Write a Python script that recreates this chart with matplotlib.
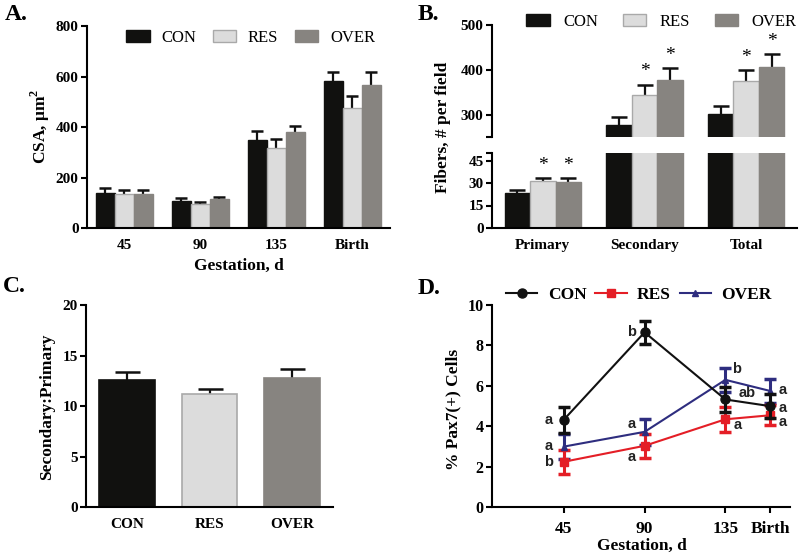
import matplotlib
matplotlib.use('Agg')
import matplotlib.pyplot as plt
import numpy as np
from matplotlib.patches import Patch
from matplotlib.lines import Line2D

plt.rcParams['font.family'] = ['Liberation Serif', 'DejaVu Serif']
plt.rcParams['font.weight'] = 'bold'
plt.rcParams['axes.linewidth'] = 1.5
plt.rcParams['xtick.major.width'] = 1.5
plt.rcParams['ytick.major.width'] = 1.5
plt.rcParams['mathtext.fontset'] = 'custom'
plt.rcParams['mathtext.bf'] = 'Liberation Serif:bold'
plt.rcParams['mathtext.rm'] = 'Liberation Serif:bold'

# ---------------- data ----------------
groups = ['CON', 'RES', 'OVER']

# Panel A: CSA
a_cats = ['45', '90', '135', 'Birth']
a_con = [140, 108, 350, 583]
a_con_err = [18, 11, 35, 37]
a_res = [135, 96, 319, 474]
a_res_err = [15, 8, 33, 50]
a_over = [135, 115, 379, 568]
a_over_err = [15, 10, 27, 52]

# Panel B: fibers per field
b_cats = ['Primary', 'Secondary', 'Total']
b_con = [23.5, 277, 301.5]
b_con_err = [1.8, 18, 18.5]
b_res = [31.3, 344, 375.5]
b_res_err = [1.8, 23, 23]
b_over = [30.9, 378, 407]
b_over_err = [2.2, 26, 29]
b_sig_res = [True, True, True]
b_sig_over = [True, True, True]

# Panel C: secondary:primary ratio
c_vals = [12.58, 11.17, 12.75]
c_err = [0.76, 0.52, 0.92]

# Panel D: % Pax7(+) cells
d_x = [45, 90, 135, 160]
d_xlabels = ['45', '90', '135', 'Birth']
d_con = [4.33, 8.65, 5.33, 5.0]
d_con_err = [0.65, 0.58, 0.62, 0.6]
d_res = [2.25, 3.04, 4.35, 4.55]
d_res_err = [0.6, 0.58, 0.62, 0.5]
d_over = [3.0, 3.73, 6.3, 5.75]
d_over_err = [0.62, 0.65, 0.6, 0.58]
d_con_letters = ['a', 'b', 'ab', 'a']
d_res_letters = ['b', 'a', 'a', 'a']
d_over_letters = ['a', 'a', 'b', 'a']

# ---------------- styles ----------------
bar_colors = ['#11110f', '#dcdcdc', '#878480']
bar_edges = ['#11110f', '#a9a9a9', '#878480']
line_colors = ['#111111', '#e41e26', '#2e2d7f']
markers = ['o', 's', '^']
tick_fs = 11
lab_fs = 12.5

W, H = 800, 557
fig = plt.figure(figsize=(8, 5.57), dpi=100)


def rect(l, t, r, b):
    return [l / W, 1 - b / H, (r - l) / W, (b - t) / H]


def style_bar_axis(ax):
    for s in ['top', 'right']:
        ax.spines[s].set_visible(False)
    ax.tick_params(axis='y', direction='out', length=4, labelsize=tick_fs, pad=2)
    ax.tick_params(axis='x', length=0, labelsize=tick_fs, pad=8)
    for lab in ax.get_xticklabels() + ax.get_yticklabels():
        lab.set_fontweight('bold')


def grouped_bars(ax, x, series, errs, width, capsize):
    for i, (vals, err) in enumerate(zip(series, errs)):
        xi = x + (i - 1) * width
        ax.errorbar(xi, vals, yerr=err, fmt='none', ecolor='#111111',
                    elinewidth=1.6, capsize=capsize, capthick=1.8, zorder=1)
        ax.bar(xi, vals, width=width, color=bar_colors[i],
               edgecolor=bar_edges[i], linewidth=1.0, zorder=2,
               label=groups[i])


# ---------------- Panel A ----------------
axA = fig.add_axes(rect(87, 26, 390, 228.3))
xa = np.arange(len(a_cats))
grouped_bars(axA, xa, [a_con, a_res, a_over], [a_con_err, a_res_err, a_over_err], 0.25, 4)
axA.set_xlim(-0.49, 3.5)
axA.set_ylim(0, 800)
axA.set_yticks([0, 200, 400, 600, 800])
axA.set_xticks(xa)
axA.set_xticklabels(a_cats)
style_bar_axis(axA)
axA.legend(loc='center', bbox_to_anchor=(0.54, 0.94), ncol=3, frameon=False,
           prop={'family': 'Liberation Serif', 'weight': 'normal', 'size': 12},
           handlelength=1.4, handleheight=0.75, handletextpad=0.7, columnspacing=1.0)
fig.text(40 / W, 1 - 126 / H, r'CSA, μm$^{\mathbf{2}}$', rotation=90, ha='center', va='center',
         fontsize=lab_fs, fontweight='bold')
fig.text(238.5 / W, 1 - 266 / H, 'Gestation, d', ha='center', va='center',
         fontsize=lab_fs, fontweight='bold')

# ---------------- Panel B ----------------
axBu = fig.add_axes(rect(492, 25, 797, 137))
axBl = fig.add_axes(rect(492, 153, 797, 228))
xb = np.arange(len(b_cats))
for ax in (axBu, axBl):
    grouped_bars(ax, xb, [b_con, b_res, b_over], [b_con_err, b_res_err, b_over_err], 0.25, 6)
    ax.set_xlim(-0.5, 2.5)
    style_bar_axis(ax)
axBu.set_ylim(250, 500)
axBu.set_yticks([250, 300, 400, 500])
axBu.set_yticklabels(['', '300', '400', '500'])
axBu.spines['bottom'].set_visible(False)
axBu.set_xticks([])
axBl.set_ylim(0, 50)
axBl.set_yticks([0, 15, 30, 45, 50])
axBl.set_yticklabels(['0', '15', '30', '45', ''])
axBl.set_xticks(xb)
axBl.set_xticklabels(b_cats)
for ax in (axBu, axBl):
    for lab in ax.get_xticklabels() + ax.get_yticklabels():
        lab.set_fontweight('bold')
        lab.set_fontsize(tick_fs)

# significance stars
for j in range(len(b_cats)):
    for i, (vals, err, sig) in enumerate([(b_res, b_res_err, b_sig_res),
                                          (b_over, b_over_err, b_sig_over)]):
        if not sig[j]:
            continue
        top = vals[j] + err[j]
        ax = axBl if top < 50 else axBu
        ax.annotate('*', xy=(xb[j] + i * 0.25, top), xytext=(0, 3),
                    textcoords='offset points', ha='center', va='bottom',
                    fontsize=14, fontweight='normal', annotation_clip=False)

handlesB = [Patch(facecolor=bar_colors[i], edgecolor=bar_edges[i], linewidth=1.0,
                  label=groups[i]) for i in range(3)]
axBu.legend(handles=handlesB, loc='center', bbox_to_anchor=(0.556, 1.027), ncol=3,
            frameon=False, prop={'family': 'Liberation Serif', 'weight': 'normal', 'size': 12},
            handlelength=1.4, handleheight=0.75, handletextpad=0.8, columnspacing=1.5)
fig.text(443 / W, 1 - 127 / H, 'Fibers, # per field', rotation=90, ha='center',
         va='center', fontsize=lab_fs, fontweight='bold')

# ---------------- Panel C ----------------
axC = fig.add_axes(rect(86, 305, 333, 507.3))
xc = np.arange(len(groups))
for i in range(3):
    axC.errorbar(xc[i], c_vals[i], yerr=c_err[i], fmt='none', ecolor='#111111',
                 elinewidth=1.6, capsize=9, capthick=1.8, zorder=1)
    axC.bar(xc[i], c_vals[i], width=0.68, color=bar_colors[i],
            edgecolor=bar_edges[i], linewidth=1.2, zorder=2)
axC.set_xlim(-0.5, 2.5)
axC.set_ylim(0, 20)
axC.set_yticks([0, 5, 10, 15, 20])
axC.set_xticks(xc)
axC.set_xticklabels(groups)
style_bar_axis(axC)
fig.text(47 / W, 1 - 407 / H, 'Secondary:Primary', rotation=90, ha='center',
         va='center', fontsize=lab_fs, fontweight='bold')

# ---------------- Panel D ----------------
axD = fig.add_axes(rect(492, 305, 790, 507.3))
d_series = [(d_con, d_con_err), (d_res, d_res_err), (d_over, d_over_err)]
msizes = [6.5, 6, 5]
zords = [3.5, 3.2, 3.1]
for i, (vals, err) in enumerate(d_series):
    axD.errorbar(d_x, vals, yerr=err, color=line_colors[i], ecolor=line_colors[i],
                 marker=markers[i], markersize=msizes[i], linewidth=1.5,
                 elinewidth=2.2, capsize=4.5, capthick=2.5, label=groups[i],
                 zorder=zords[i])
axD.set_xlim(5, 171)
axD.set_ylim(0, 10)
axD.set_yticks([0, 2, 4, 6, 8, 10])
axD.set_xticks(d_x)
axD.set_xticklabels(d_xlabels)
for s in ['top', 'right']:
    axD.spines[s].set_visible(False)
axD.tick_params(axis='y', direction='out', length=4, labelsize=11.5, pad=2)
axD.tick_params(axis='x', direction='out', length=4, labelsize=12.5, pad=6)
for lab in axD.get_xticklabels() + axD.get_yticklabels():
    lab.set_fontweight('bold')

# letter annotations (offsets in pixels -> points)
letter_offsets = {
    'con': [(-15, 0), (-13, 0), (22, 6), (12, -2)],
    'res': [(-15, 0), (-13, -11), (12, -6), (12, -6.5)],
    'over': [(-15, 1), (-13, 7.5), (11, 10.5), (12, 1)],
}
for key, vals, lets in [('con', d_con, d_con_letters), ('res', d_res, d_res_letters),
                        ('over', d_over, d_over_letters)]:
    for j in range(len(d_x)):
        dx, dy = letter_offsets[key][j]
        axD.annotate(lets[j], xy=(d_x[j], vals[j]), xytext=(dx * 0.72, dy * 0.72),
                     textcoords='offset points', ha='center', va='center',
                     fontsize=10.5, fontweight='bold',
                     family=['Liberation Sans', 'DejaVu Sans'], color='#222222')

handlesD = [Line2D([0], [0], color=line_colors[i], marker=markers[i],
                   markersize=msizes[i], linewidth=1.5, label=groups[i]) for i in range(3)]
axD.legend(handles=handlesD, loc='center', bbox_to_anchor=(0.493, 1.05), ncol=3,
           frameon=False, prop={'family': 'Liberation Serif', 'weight': 'bold', 'size': 12.5},
           handlelength=1.8, handletextpad=0.6, columnspacing=0.5)
fig.text(453 / W, 1 - 409 / H, '% Pax7(+) Cells', rotation=90, ha='center',
         va='center', fontsize=lab_fs, fontweight='bold')
fig.text(642 / W, 1 - 546 / H, 'Gestation, d', ha='center', va='center',
         fontsize=lab_fs, fontweight='bold')

# panel letters
for lbl, x, y in [('A.', 5, 15), ('B.', 418, 15), ('C.', 3, 287), ('D.', 418, 289)]:
    fig.text(x / W, 1 - y / H, lbl, ha='left', va='center', fontsize=17,
             fontweight='bold')

fig.savefig('out.png', dpi=100)
